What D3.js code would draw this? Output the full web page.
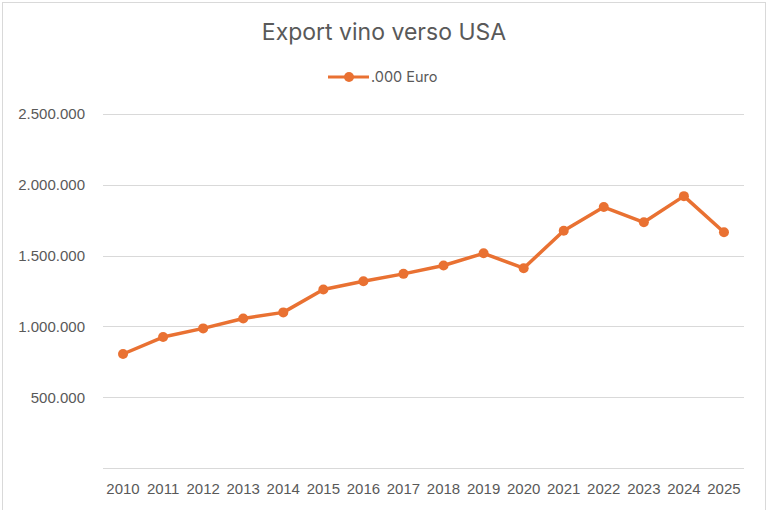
<!DOCTYPE html>
<html>
<head>
<meta charset="utf-8">
<script src="https://cdn.jsdelivr.net/npm/d3@7"></script>
<style>
  html, body { margin: 0; padding: 0; background: #fff; }
  svg { display: block; font-family: Inter, "Open Sans", sans-serif; }
</style>
</head>
<body>
<svg id="chart" width="768" height="510"></svg>
<script>
// Data
const years = ['2010', '2011', '2012', '2013', '2014', '2015', '2016', '2017',
               '2018', '2019', '2020', '2021', '2022', '2023', '2024', '2025'];
const exportValues = [805000, 925000, 986000, 1056000, 1099000, 1261000, 1319000, 1371000,
                      1430000, 1516000, 1411000, 1675000, 1843000, 1735000, 1920000, 1665000];
const yTicks = [0, 500000, 1000000, 1500000, 2000000, 2500000];
const seriesName = '.000 Euro';
const chartTitle = 'Export vino verso USA';

const svg = d3.select('#chart');
const width = 768, height = 510;
const margin = { top: 114, right: 24, bottom: 42, left: 103 };
const lineColor = '#E97132';
const textColor = '#595959';

// Outer frame
svg.append('rect')
    .attr('x', 2.5).attr('y', 2.5)
    .attr('width', 763).attr('height', 520)
    .attr('fill', 'none')
    .attr('stroke', '#d9d9d9');

const x = d3.scaleBand()
    .domain(years)
    .range([margin.left, width - margin.right]);

const y = d3.scaleLinear()
    .domain([0, 2500000])
    .range([height - margin.bottom, margin.top]);

// Italian style thousands separator
const fmt = d3.formatLocale({ decimal: ',', thousands: '.', grouping: [3], currency: ['€', ''] }).format(',');

// Gridlines
svg.append('g')
    .selectAll('line')
    .data(yTicks)
    .join('line')
    .attr('x1', margin.left)
    .attr('x2', width - margin.right)
    .attr('y1', d => Math.round(y(d)) + 0.5)
    .attr('y2', d => Math.round(y(d)) + 0.5)
    .attr('stroke', '#d9d9d9')
    .attr('stroke-width', 1);

// Y axis labels (0 has no label)
const yAxis = d3.axisLeft(y)
    .tickValues(yTicks.filter(d => d > 0))
    .tickFormat(fmt)
    .tickSize(0)
    .tickPadding(0);
svg.append('g')
    .attr('transform', `translate(${85},0)`)
    .call(yAxis)
    .call(g => g.select('.domain').remove())
    .selectAll('text')
    .attr('fill', textColor)
    .style('font-size', '15px');

// X axis labels
const xAxis = d3.axisBottom(x).tickSize(0).tickPadding(15);
svg.append('g')
    .attr('transform', `translate(0,${height - margin.bottom})`)
    .call(xAxis)
    .call(g => g.select('.domain').remove())
    .selectAll('text')
    .attr('fill', textColor)
    .style('font-size', '15px');

// Line
const line = d3.line()
    .x((d, i) => x(years[i]) + x.bandwidth() / 2)
    .y(d => y(d));

svg.append('path')
    .datum(exportValues)
    .attr('d', line)
    .attr('fill', 'none')
    .attr('stroke', lineColor)
    .attr('stroke-width', 3.5)
    .attr('stroke-linejoin', 'round');

svg.append('g')
    .selectAll('circle')
    .data(exportValues)
    .join('circle')
    .attr('cx', (d, i) => x(years[i]) + x.bandwidth() / 2)
    .attr('cy', d => y(d))
    .attr('r', 5)
    .attr('fill', lineColor);

// Title
svg.append('text')
    .attr('x', width / 2)
    .attr('y', 40)
    .attr('text-anchor', 'middle')
    .attr('fill', textColor)
    .style('font-size', '23px')
    .text(chartTitle);

// Legend
const legend = svg.append('g').attr('transform', 'translate(328,77)');
legend.append('line')
    .attr('x1', 0).attr('x2', 41)
    .attr('stroke', lineColor)
    .attr('stroke-width', 3);
legend.append('circle')
    .attr('cx', 21).attr('r', 5)
    .attr('fill', lineColor);
legend.append('text')
    .attr('x', 43)
    .attr('dy', '0.35em')
    .attr('fill', textColor)
    .style('font-size', '14.5px')
    .text(seriesName);
</script>
</body>
</html>
